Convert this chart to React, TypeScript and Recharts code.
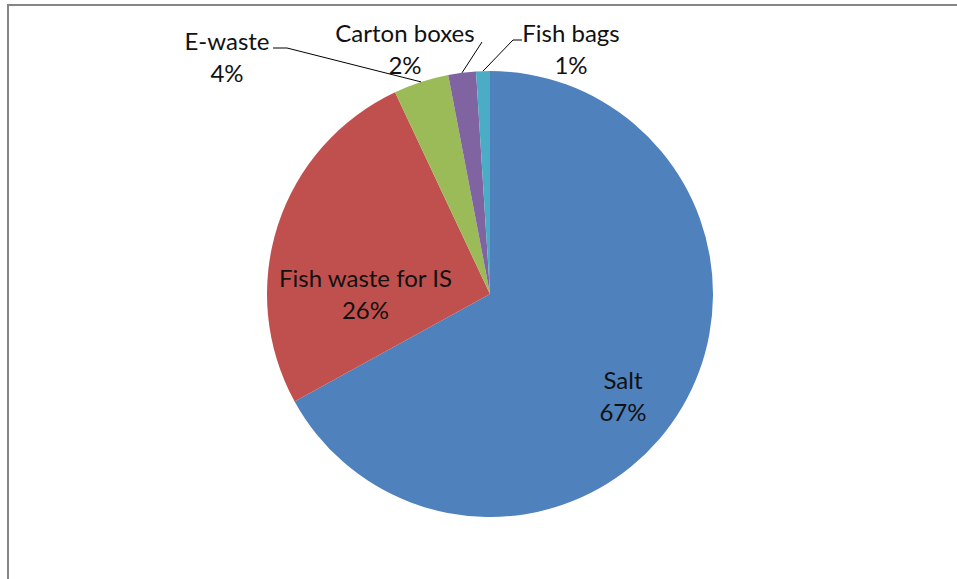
import React from "react";
import { PieChart, Pie, Cell } from "recharts";

// Waste composition shares (%)
const categories = ["Salt", "Fish waste for IS", "E-waste", "Carton boxes", "Fish bags"];
const shares = [67, 26, 4, 2, 1];
const colors = ["#4F81BD", "#C0504D", "#9BBB59", "#8064A2", "#4BACC6"];

const data = categories.map((name, i) => ({ name, value: shares[i] }));

const RAD = Math.PI / 180;
const FONT = "Lato, 'Open Sans', sans-serif";
const FONT_SIZE = 24;
const LINE_GAP = 32;

// label placement relative to the pie centre; leader points optional
type Placement = {
  tx: number;
  ty: number;
  elbow?: [number, number];
  end?: [number, number];
};

const placements: Record<string, Placement> = {
  Salt: { tx: 133, ty: 95 },
  "Fish waste for IS": { tx: -124.5, ty: -7 },
  "E-waste": { tx: -263, ty: -244, elbow: [-203, -246], end: [-217, -246] },
  "Carton boxes": { tx: -85, ty: -252, end: [-8, -252] },
  "Fish bags": { tx: 81, ty: -252, elbow: [23, -254], end: [32, -254] },
};

function renderLabel(props: any) {
  const { cx, cy, midAngle, outerRadius, percent, name } = props;
  const p = placements[name];
  if (!p) return null;
  const sx = cx + outerRadius * Math.cos(-midAngle * RAD);
  const sy = cy + outerRadius * Math.sin(-midAngle * RAD);
  const pts: [number, number][] = [[sx, sy]];
  if (p.elbow) pts.push([cx + p.elbow[0], cy + p.elbow[1]]);
  if (p.end) pts.push([cx + p.end[0], cy + p.end[1]]);
  return (
    <g>
      {pts.length > 1 && (
        <polyline
          points={pts.map((q) => q.join(",")).join(" ")}
          fill="none"
          stroke="#000"
          strokeWidth={1}
        />
      )}
      <text
        x={cx + p.tx}
        y={cy + p.ty}
        textAnchor="middle"
        fill="#111"
        fontFamily={FONT}
        fontSize={FONT_SIZE}
      >
        <tspan x={cx + p.tx}>{name}</tspan>
        <tspan x={cx + p.tx} dy={LINE_GAP}>
          {Math.round(percent * 100)}%
        </tspan>
      </text>
    </g>
  );
}

export default function App() {
  return (
    <div style={{ position: "relative", width: 957, height: 579, background: "#fff" }}>
      <style>{"body { margin: 0; }"}</style>
      <PieChart width={957} height={579} margin={{ top: 0, right: 0, bottom: 0, left: 0 }}>
        <Pie
          data={data}
          dataKey="value"
          nameKey="name"
          cx={490}
          cy={294}
          outerRadius={223}
          startAngle={90}
          endAngle={-270}
          stroke="none"
          label={renderLabel}
          labelLine={false}
          isAnimationActive={false}
        >
          {data.map((d, i) => (
            <Cell key={d.name} fill={colors[i]} />
          ))}
        </Pie>
      </PieChart>
      {/* chart-area frame, running off the right and bottom edges */}
      <svg
        width={957}
        height={579}
        style={{ position: "absolute", left: 0, top: 0, pointerEvents: "none" }}
      >
        <polyline points="8,579 8,5 957,5" fill="none" stroke="#858585" strokeWidth={2} />
      </svg>
    </div>
  );
}
